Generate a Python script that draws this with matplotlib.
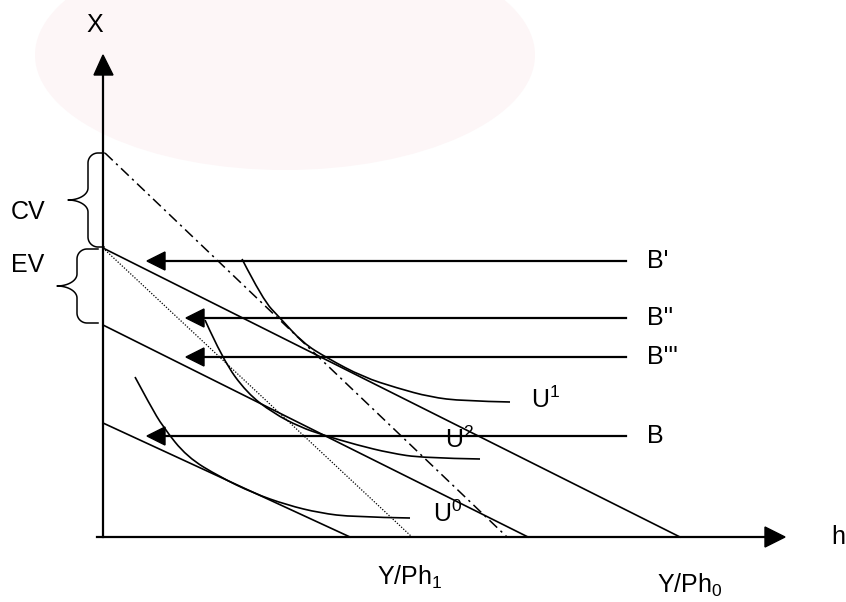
import matplotlib
matplotlib.use("Agg")
import matplotlib.pyplot as plt
from matplotlib.patches import Polygon, Ellipse, PathPatch
from matplotlib.path import Path
import numpy as np

plt.rcParams['font.family'] = ['Liberation Sans', 'DejaVu Sans']
plt.rcParams['mathtext.fontset'] = 'custom'
plt.rcParams['mathtext.rm'] = 'Liberation Sans'
plt.rcParams['mathtext.it'] = 'Liberation Sans'
plt.rcParams['mathtext.default'] = 'regular'

# ---- data (diagram coordinates, y grows downward) ----
origin = (103, 537)
x_axis_end = 785
y_axis_end = 55

# budget lines: (start x, start y) -> (end x, end y on h axis)
budget_Bprime = [(103, 248), (680, 537)]
budget_B2 = [(103, 325), (528, 537)]
budget_B = [(103, 423), (350, 537)]
dashdot_line = [(105, 153), (507, 537)]
dotted_line = [(103, 248), (412, 537)]

# indifference curves
U1_x = [242, 263, 280, 303, 327, 363, 397, 430, 463, 510]
U1_y = [259, 300, 318, 343, 358, 377, 388, 397, 401, 402]
U2_x = [205, 223, 247, 273, 300, 323, 357, 390, 423, 480]
U2_y = [320, 360, 393, 413, 427, 435, 445, 453, 458, 459]
U0_x = [135, 150, 163, 187, 220, 253, 287, 320, 353, 410]
U0_y = [377, 405, 427, 457, 477, 493, 505, 513, 517, 518]

# horizontal arrows: label, y, arrow tip x
arrow_labels = ["B'", "B''", "B'''", "B"]
arrow_y = [261, 318, 357, 436]
arrow_tip = [147, 186, 186, 147]
arrow_right = 626

fig = plt.figure(figsize=(8.46, 6.02), dpi=100)
ax = fig.add_axes([0, 0, 1, 1])
ax.set_xlim(0, 846)
ax.set_ylim(602, 0)
ax.axis('off')

# faint watermark blob
ax.add_patch(Ellipse((285, 55), 500, 230, facecolor='#fdf6f7', edgecolor='none', zorder=0))

lw = 1.2
# axes
ax.plot([origin[0], origin[0]], [origin[1], y_axis_end + 15], color='black', lw=1.6)
ax.plot([origin[0] - 6, x_axis_end - 15], [origin[1], origin[1]], color='black', lw=1.6)
ax.add_patch(Polygon([(103, y_axis_end), (94, y_axis_end + 20), (113, y_axis_end + 20)],
                     closed=True, color='black'))
ax.add_patch(Polygon([(x_axis_end, 537), (x_axis_end - 20, 527), (x_axis_end - 20, 547)],
                     closed=True, color='black'))

for seg in (budget_Bprime, budget_B2, budget_B):
    ax.plot([seg[0][0], seg[1][0]], [seg[0][1], seg[1][1]], color='black', lw=lw)
ax.plot([dashdot_line[0][0], dashdot_line[1][0]], [dashdot_line[0][1], dashdot_line[1][1]],
        color='black', lw=1.1, linestyle=(0, (7, 3, 1.5, 3)))
ax.plot([dotted_line[0][0], dotted_line[1][0]], [dotted_line[0][1], dotted_line[1][1]],
        color='black', lw=0.9, linestyle=(0, (1, 1.3)))


def smooth_curve(xs, ys):
    pts = list(zip(xs, ys))
    verts = [pts[0]]
    codes = [Path.MOVETO]
    for i in range(1, len(pts) - 1):
        mid = ((pts[i][0] + pts[i + 1][0]) / 2, (pts[i][1] + pts[i + 1][1]) / 2)
        if i == len(pts) - 2:
            mid = pts[-1]
        verts += [pts[i], mid]
        codes += [Path.CURVE3, Path.CURVE3]
    ax.add_patch(PathPatch(Path(verts, codes), facecolor='none', edgecolor='black', lw=lw))


for xs, ys in ((U1_x, U1_y), (U2_x, U2_y), (U0_x, U0_y)):
    smooth_curve(xs, ys)

for lab, y, tip in zip(arrow_labels, arrow_y, arrow_tip):
    ax.plot([tip + 15, arrow_right], [y, y], color='black', lw=1.6)
    ax.add_patch(Polygon([(tip, y), (tip + 18, y - 9), (tip + 18, y + 9)], closed=True, color='black'))
    ax.text(647, y, lab, fontsize=18, ha='left', va='center')


# curly braces
def brace(y_top, y_bot, x_end, x_mid, x_cusp, r_end=10, r_mid=12):
    yc = (y_top + y_bot) / 2
    t = np.linspace(0, np.pi / 2, 20)
    rx = x_mid - x_cusp
    pts = [(x_end, y_top)]
    pts += [(x_mid + r_end - r_end * np.sin(a), y_top + r_end - r_end * np.cos(a)) for a in t]
    pts += [(x_mid - rx + rx * np.cos(a), yc - r_mid + r_mid * np.sin(a)) for a in t]
    pts += [(x_mid - rx + rx * np.sin(a), yc + r_mid - r_mid * np.cos(a)) for a in t]
    pts += [(x_mid + r_end - r_end * np.cos(a), y_bot - r_end + r_end * np.sin(a)) for a in t]
    pts.append((x_end, y_bot))
    p = np.array(pts)
    ax.plot(p[:, 0], p[:, 1], color='black', lw=1.1)


brace(153, 247, 104, 88, 68)
brace(249, 323, 98, 77, 57)

ax.text(95, 25, 'X', fontsize=18, ha='center', va='center')
ax.text(838, 537, 'h', fontsize=18, ha='center', va='center')
ax.text(28, 212, 'CV', fontsize=18, ha='center', va='center')
ax.text(28, 265, 'EV', fontsize=18, ha='center', va='center')
ax.text(531, 400, r'U$^1$', fontsize=18, ha='left', va='center')
ax.text(445, 440, r'U$^2$', fontsize=18, ha='left', va='center')
ax.text(433, 514, r'U$^0$', fontsize=18, ha='left', va='center')
ax.text(410, 577, r'Y/Ph$_1$', fontsize=18, ha='center', va='center')
ax.text(690, 585, r'Y/Ph$_0$', fontsize=18, ha='center', va='center')

fig.savefig('out.png', dpi=100)
